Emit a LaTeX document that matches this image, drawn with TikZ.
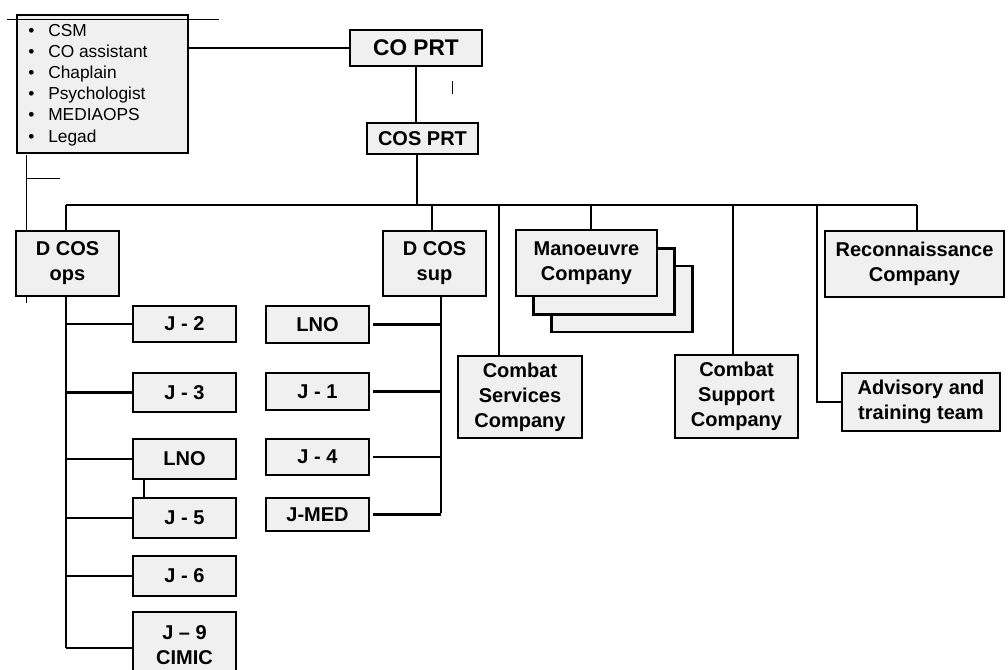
\documentclass[tikz,border=0pt]{standalone}
\usepackage{fontspec}
\setmainfont{Liberation Sans}
\definecolor{boxfill}{RGB}{240,240,240}
\begin{document}
\begin{tikzpicture}[x=0.75pt,y=-0.75pt,
  box/.style={draw=black, line width=2pt, fill=boxfill, inner sep=0pt, align=center,
    font=\fontsize{15}{18.75}\selectfont\bfseries},
  sz/.style 2 args={minimum width=#1*0.75pt, minimum height=#2*0.75pt},
  conn/.style={draw=black, line width=1.6pt},
  thin/.style={draw=black, line width=0.75pt}]
\clip (0,0) rectangle (1008,669);
% thin stray lines (behind boxes)
\draw[thin] (26,155) -- (26,303);
\draw[thin] (26,178) -- (60,178);
\draw[thin] (452,81) -- (452,94);

% bus coordinates
\coordinate (b0) at (417,205);
\coordinate (b1) at (66,205);
\coordinate (b2) at (432,205);
\coordinate (b3) at (499,205);
\coordinate (b4) at (591,205);
\coordinate (b5) at (733,205);
\coordinate (b6) at (817,205);
\coordinate (b7) at (917,205);
\coordinate (tL) at (66,648);
\coordinate (tR) at (441,513);

% boxes
\node[box, sz={171}{138}] (bullet) at (102.5,84) {};
\node[box, sz={132}{36}, font=\fontsize{17}{20}\selectfont\bfseries] (COPRT) at (416,48) {CO PRT};
\node[box, sz={111}{31}] (COSPRT) at (422.5,138.5) {COS PRT};
\node[box, sz={103}{65}] (DCOSops) at (67.5,263.5) {D COS\\ops};
\node[box, sz={103}{65}] (DCOSsup) at (434.5,263.5) {D COS\\sup};
\node[box, sz={141}{66}] (Man3) at (622,299) {};
\node[box, sz={141}{66}] (Man2) at (604,281.5) {};
\node[box, sz={141}{66}] (Man) at (586.5,263) {Manoeuvre\\Company};
\node[box, sz={179}{66}] (Recon) at (914.5,264) {Reconnaissance\\Company};
\node[box, sz={124}{82}] (CSvc) at (520,397) {Combat\\Services\\Company};
\node[box, sz={123}{83}] (CSup) at (736.5,396.5) {Combat\\Support\\Company};
\node[box, sz={158}{58}] (Adv) at (921,402) {Advisory and\\training team};

\node[box, sz={103}{36}] (J2) at (184.5,324) {J - 2};
\node[box, sz={103}{39}] (J3) at (184.5,392.5) {J - 3};
\node[box, sz={103}{40}] (LNOa) at (184.5,459) {LNO};
\node[box, sz={103}{40}] (J5) at (184.5,518) {J - 5};
\node[box, sz={103}{40}] (J6) at (184.5,576) {J - 6};
\node[box, sz={103}{66}] (J9) at (184.5,645) {J – 9\\CIMIC};

\node[box, sz={103}{37}] (LNOb) at (317.5,324.5) {LNO};
\node[box, sz={103}{37}] (J1) at (317.5,391.5) {J - 1};
\node[box, sz={103}{36}] (J4) at (317.5,457) {J - 4};
\node[box, sz={103}{33}] (JMED) at (317.5,514.5) {J-MED};

% bullet list text
\node[anchor=base west, inner sep=0pt] (list) at (28,36)
  {\parbox[t]{150pt}{\fontsize{13}{15.9}\selectfont\raggedright
   \makebox[15pt][l]{•}CSM\\
   \makebox[15pt][l]{•}CO assistant\\
   \makebox[15pt][l]{•}Chaplain\\
   \makebox[15pt][l]{•}Psychologist\\
   \makebox[15pt][l]{•}MEDIAOPS\\
   \makebox[15pt][l]{•}Legad}};
\draw[thin] (7,19) -- (219,19);

% connectors
\draw[conn] (COPRT.west) -- (COPRT.west -| bullet.east);
\draw[conn] (COPRT.south) -- (COPRT.south |- COSPRT.north);
\draw[conn] (COSPRT.south -| b0) -- (b0);
\draw[conn] (b1) -- (b7);
\draw[conn] (b1) -- (b1 |- DCOSops.north);
\draw[conn] (b2) -- (b2 |- DCOSsup.north);
\draw[conn] (b3) -- (b3 |- CSvc.north);
\draw[conn] (b4) -- (b4 |- Man.north);
\draw[conn] (b5) -- (b5 |- CSup.north);
\draw[conn] (b6) |- (Adv.west);
\draw[conn] (b7) -- (b7 |- Recon.north);

\draw[conn] (DCOSops.south -| tL) -- (tL);
\foreach \n in {J2,J3,LNOa,J5,J6} \draw[conn] (\n.west) -- (\n.west -| tL);
\draw[conn] (J9.west |- tL) -- (tL);
\draw[conn] (LNOa.south -| 144,0) -- (J5.north -| 144,0);

\draw[conn] (DCOSsup.south -| tR) -- (tR);
\foreach \n in {LNOb,J1,J4,JMED} \draw[conn] ([xshift=2.25pt]\n.east) -- (\n.east -| tR);
\end{tikzpicture}
\end{document}
